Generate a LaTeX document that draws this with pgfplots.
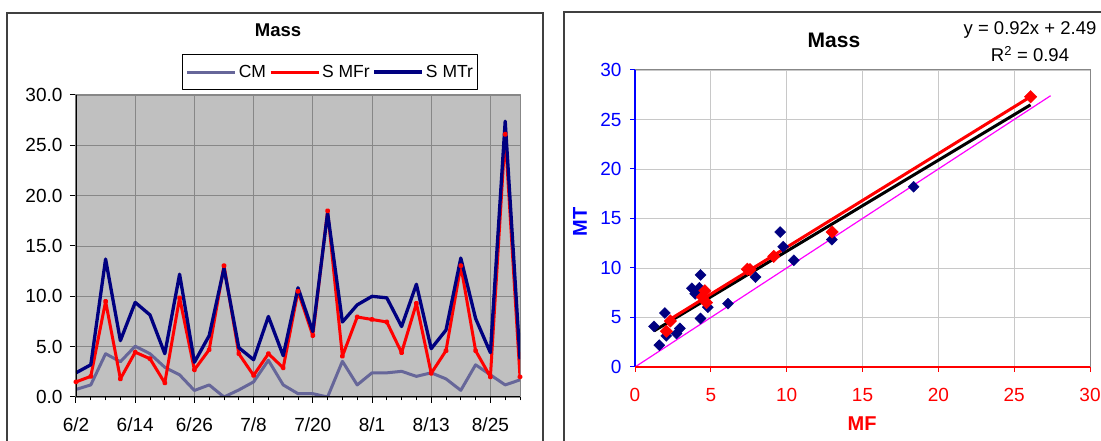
\documentclass[border=0pt]{standalone}
\usepackage{pgfplots}
\pgfplotsset{compat=1.18}
\usepackage{fontspec}
\setmainfont{Liberation Sans}
\definecolor{cmcol}{HTML}{666699}
\definecolor{navy}{HTML}{000080}
\definecolor{bggray}{HTML}{C0C0C0}
\definecolor{gridgray}{HTML}{878787}
\definecolor{lgray}{HTML}{C8C8C8}
\definecolor{framecol}{HTML}{404040}
\definecolor{magentaline}{HTML}{FF00FF}
\pgfplotstableread{
x CM MFr MTr
0 0.75 1.5 2.4
3 1.2 2.05 3.2
6 4.3 9.5 13.7
9 3.5 1.8 5.6
12 5.05 4.45 9.4
15 4.3 3.8 8.15
18 2.95 1.4 4.3
21 2.2 9.85 12.2
24 0.65 2.7 3.45
27 1.2 4.7 6.1
30 0 13.05 12.8
33 0.7 4.3 4.9
36 1.5 2.15 3.7
39 3.65 4.3 8.0
42 1.2 2.9 4.1
45 0.33 10.5 10.85
48 0.33 6.1 6.5
51 0 18.5 18.3
54 3.55 4.05 7.45
57 1.2 7.95 9.15
60 2.4 7.7 10.0
63 2.4 7.45 9.85
66 2.55 4.4 7.0
69 2.05 9.3 11.2
72 2.4 2.35 4.8
75 1.8 4.6 6.65
78 0.66 13.05 13.8
81 3.2 4.6 7.8
84 2.2 2.0 4.4
87 1.2 26.1 27.4
90 1.7 2.0 3.75
}\timedata
\pgfplotstableread{
mf mt
1.25 4.1
1.6 2.2
1.97 5.45
2.06 3.15
2.74 3.38
2.96 3.9
3.75 7.95
3.97 7.4
4.32 9.3
4.25 8.0
4.32 4.9
4.8 6.04
6.13 6.4
7.95 9.08
9.57 13.63
9.77 12.15
10.47 10.78
12.98 12.87
18.37 18.2
}\bluepts
\pgfplotstableread{
mf mt
2.07 3.62
2.33 4.65
4.45 7.07
4.6 7.7
4.72 6.5
7.41 9.88
7.58 9.84
9.15 11.17
13.0 13.64
26.08 27.3
}\redpts
\begin{document}
\begin{tikzpicture}[x=1pt,y=1pt]
\useasboundingbox (0,0) rectangle (1101,441);
\draw[framecol, line width=1.3pt] (7,-10) -- (7,428) -- (543,428) -- (543,-10);
\draw[framecol, line width=1.3pt] (564,-10) -- (564,429) -- (1115,429);
% left chart
\begin{axis}[
  at={(76pt,44pt)}, anchor=south west, scale only axis,
  width=444pt, height=302pt,
  xmin=0, xmax=90, ymin=0, ymax=30,
  xtick={0,12,...,84},
  xticklabels={6/2,6/14,6/26,7/8,7/20,8/1,8/13,8/25},
  minor xtick={0,3,...,90},
  ytick={0,5,...,30},
  /pgf/number format/assume math mode=true,
  yticklabel style={/pgf/number format/fixed,/pgf/number format/fixed zerofill,/pgf/number format/precision=1, xshift=-4pt},
  xticklabel style={yshift=-11pt},
  tick label style={font=\fontsize{19}{21}\selectfont, black},
  axis background/.style={fill=bggray},
  grid=major, major grid style={gridgray, line width=0.9pt},
  axis line style={gridgray, line width=1pt},
  xtick pos=bottom, ytick pos=left, tick align=outside,
  major tick length=6pt, minor tick length=3.5pt,
  tick style={black, line width=1pt},
  legend style={at={(0.573,1.076)}, anchor=center, draw=black, line width=1pt, fill=white,
    font=\fontsize{17.5}{20}\selectfont, legend columns=3,
    /tikz/every even column/.append style={column sep=1pt},
    inner xsep=3pt, inner ysep=9pt},
  legend image code/.code={\draw[#1] (0pt,0pt) -- (48pt,0pt);},
  line join=round,
]
\addplot[cmcol, line width=3pt] table[x=x,y=CM] {\timedata};
\addlegendentry{CM}
\addplot[red, line width=3pt, mark=*, mark size=1.2pt, mark options={red}] table[x=x,y=MFr] {\timedata};
\addlegendentry{S MFr}
\addplot[navy, line width=3.3pt] table[x=x,y=MTr] {\timedata};
\addlegendentry{S MTr}
\addplot[red, only marks, mark=*, mark size=1.2pt, forget plot] table[x=x,y=MFr] {\timedata};
\draw[black, line width=1.5pt] (rel axis cs:0,1) -- (rel axis cs:0,0) -- (rel axis cs:1,0);
\end{axis}
\node[font=\fontsize{18.5}{20}\selectfont\bfseries] at (278,411) {Mass};
% right chart
\begin{axis}[
  at={(635pt,74pt)}, anchor=south west, scale only axis,
  width=455pt, height=297pt,
  xmin=0, xmax=30, ymin=0, ymax=30,
  xtick={0,5,...,30}, ytick={0,5,...,30},
  /pgf/number format/assume math mode=true,
  grid=major, major grid style={lgray, line width=0.9pt},
  axis line style={gridgray, line width=1pt},
  xtick pos=bottom, ytick pos=left, tick align=outside,
  major tick length=5pt,
  x tick style={red, line width=1pt}, y tick style={blue, line width=1pt},
  xticklabel style={red, font=\fontsize{19}{21}\selectfont, yshift=-13pt},
  yticklabel style={blue, font=\fontsize{19}{21}\selectfont, xshift=-5pt},
  xlabel={MF}, ylabel={MT},
  xlabel style={red, font=\fontsize{20}{22}\selectfont\bfseries, at={(axis description cs:0.499,-0.189)}, anchor=center},
  ylabel style={blue, font=\fontsize{20}{22}\selectfont\bfseries, at={(axis description cs:-0.121,0.488)}, anchor=center},
  clip=false,
]
\addplot[magentaline, line width=1.2pt] coordinates {(0,0) (27.4,27.4)};
\addplot[only marks, mark=square*, mark size=3.9pt, mark options={rotate=45, fill=navy, draw=navy}] table[x=mf,y=mt] {\bluepts};
\addplot[black, line width=3pt] coordinates {(1.25,3.64) (26.08,26.48)};
\addplot[red, line width=3pt] coordinates {(2.07,4.59) (26.08,27.3)};
\addplot[only marks, mark=square*, mark size=4.4pt, mark options={rotate=45, fill=red, draw=red}] table[x=mf,y=mt] {\redpts};
\draw[blue, line width=1.5pt] (rel axis cs:0,1) -- (rel axis cs:0,0);
\draw[red, line width=1.5pt] (rel axis cs:0,0) -- (rel axis cs:1,0);
\end{axis}
\node[font=\fontsize{21}{23}\selectfont\bfseries] at (834,401) {Mass};
\node[font=\fontsize{18.5}{20}\selectfont] at (1030,411) {y = 0.92x + 2.49};
\node[font=\fontsize{18.5}{20}\selectfont] at (1030,387) {R\textsuperscript{2} = 0.94};
\end{tikzpicture}
\end{document}
